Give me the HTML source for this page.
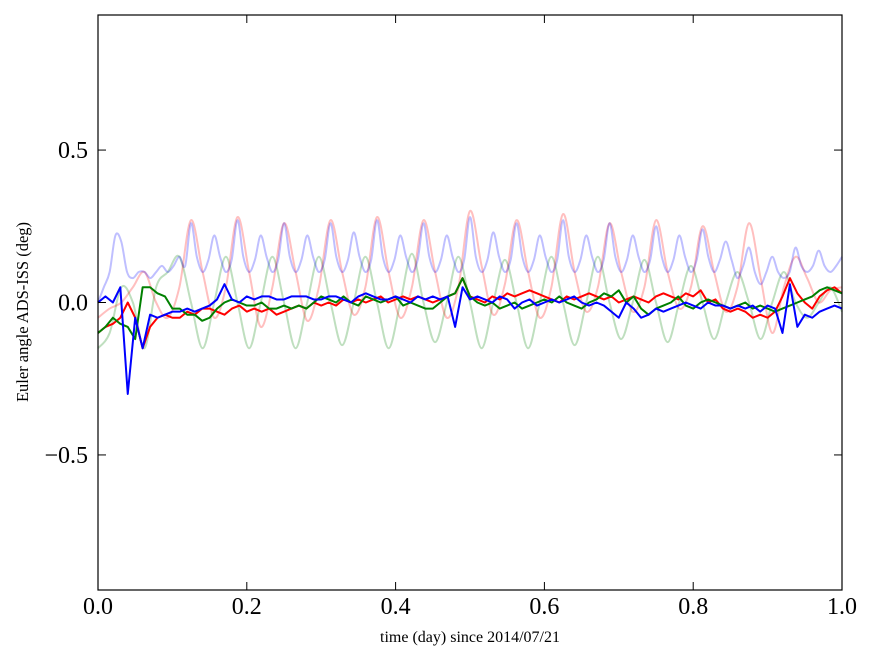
<!DOCTYPE html>
<html><head><meta charset="utf-8"><style>
html,body{margin:0;padding:0;background:#fff;}
svg{display:block;font-family:"Liberation Serif",serif;}
</style></head><body>
<svg id="chart" width="875" height="662" viewBox="0 0 875 662" xmlns="http://www.w3.org/2000/svg">
<rect x="0" y="0" width="875" height="662" fill="#fff"/>
<g id="faint"></g>
<g id="main"></g>
<rect x="98" y="15" width="744" height="575" fill="none" stroke="#000" stroke-width="1.2"/>
<g id="ticks"></g>
<text x="470" y="642" font-size="16" text-anchor="middle">time (day) since 2014/07/21</text>
<text transform="translate(28,312) rotate(-90)" font-size="16.5" text-anchor="middle">Euler angle ADS-ISS (deg)</text>
</svg>
<script>
const xTicks=[0,0.2,0.4,0.6,0.8,1.0];
const xTickLabels=["0.0","0.2","0.4","0.6","0.8","1.0"];
const yTicks=[-0.5,0,0.5];
const yTickLabels=["\u22120.5","0.0","0.5"];
const faintPink=[-0.05,-0.02,0.0,0.05,0.1,0.0,-0.05,0.05,0.27,0.1,-0.05,0.05,0.28,0.1,-0.08,0.05,0.26,0.1,-0.06,0.05,0.27,0.1,-0.04,0.05,0.28,0.1,-0.05,0.05,0.27,0.1,-0.05,0.05,0.3,0.12,-0.04,0.06,0.27,0.1,-0.05,0.05,0.29,0.1,-0.03,0.05,0.26,0.1,-0.03,0.05,0.27,0.1,-0.02,0.05,0.25,0.1,-0.03,0.05,0.26,0.08,-0.1,0.05,0.15,0.08,0.0,0.04,0.05];
const faintGreen=[-0.15,-0.1,0.05,0.0,-0.15,0.05,0.1,0.15,0.0,-0.15,0.0,0.15,0.0,-0.15,0.0,0.15,0.0,-0.15,0.0,0.15,0.0,-0.14,0.0,0.15,0.0,-0.15,0.0,0.16,0.0,-0.13,0.0,0.15,0.0,-0.15,0.0,0.14,0.0,-0.15,0.0,0.15,0.0,-0.14,0.0,0.15,0.0,-0.12,0.0,0.14,0.0,-0.13,0.0,0.12,0.0,-0.12,0.0,0.1,0.0,-0.12,0.0,0.1,0.0,-0.05,0.0,0.05,-0.03];
const faintBlue=[0,0.05,0.1,0.22,0.2,0.1,0.08,0.1,0.1,0.08,0.1,0.12,0.1,0.12,0.15,0.12,
0.26,0.15,0.1,0.14,0.22,0.15,0.1,0.14,0.27,0.15,0.1,0.14,0.22,0.15,0.1,0.14,0.26,0.15,0.1,0.14,0.22,0.15,0.1,0.14,0.26,0.15,0.1,0.14,0.23,0.15,0.1,0.14,
0.27,0.15,0.1,0.14,0.22,0.15,0.1,0.14,0.26,0.15,0.1,0.14,0.22,0.15,0.1,0.14,0.28,0.15,0.1,0.14,0.23,0.15,0.1,0.14,0.26,0.15,0.1,0.14,0.22,0.15,0.1,0.14,
0.27,0.15,0.1,0.14,0.22,0.15,0.1,0.14,0.26,0.15,0.1,0.14,0.22,0.15,0.1,0.14,0.25,0.15,0.1,0.14,0.22,0.15,0.1,0.14,0.24,0.15,0.1,0.14,0.2,0.14,0.08,0.12,
0.18,0.1,0.06,0.1,0.15,0.1,0.08,0.1,0.18,0.12,0.1,0.12,0.17,0.12,0.1,0.12,0.15];
const seriesRed=[-0.1,-0.08,-0.07,-0.05,0.0,-0.05,-0.15,-0.08,-0.05,-0.04,-0.05,-0.05,-0.03,-0.04,-0.02,-0.02,-0.03,-0.04,-0.02,-0.01,-0.03,-0.02,-0.03,-0.02,-0.04,-0.03,-0.02,-0.01,-0.02,0.0,-0.01,0.0,-0.01,0.01,0.0,0.01,0.0,0.01,0.02,0.0,0.01,0.02,0.01,0.02,0.01,0.0,0.01,0.02,0.03,0.08,0.02,0.01,0.0,0.02,0.01,0.03,0.02,0.03,0.04,0.03,0.02,0.01,0.0,0.02,0.01,0.02,0.03,0.02,0.01,0.02,0.0,0.01,0.02,0.01,0.0,0.02,0.03,0.02,0.01,0.03,0.02,0.04,0.0,0.01,-0.02,-0.03,-0.02,-0.03,-0.05,-0.04,-0.05,-0.03,0.02,0.08,0.03,0.0,-0.02,0.02,0.04,0.05,0.03];
const seriesGreen=[-0.1,-0.08,-0.05,-0.07,-0.08,-0.12,0.05,0.05,0.03,0.02,-0.02,-0.02,-0.04,-0.04,-0.06,-0.05,-0.02,0.0,0.01,0.0,-0.01,-0.01,0.0,-0.02,-0.02,-0.01,-0.02,-0.01,-0.02,0.0,0.02,0.01,0.0,0.02,0.0,-0.01,0.02,0.01,0.0,0.01,0.02,-0.01,0.0,-0.01,-0.02,-0.02,0.0,0.02,0.03,0.08,0.02,0.0,-0.01,0.0,-0.02,-0.01,0.0,-0.02,-0.01,0.0,0.01,0.0,0.02,0.0,-0.01,-0.02,0.0,0.01,0.03,0.02,0.04,0.0,0.02,-0.02,-0.04,-0.02,-0.01,0.0,0.02,-0.01,-0.02,0.0,0.01,0.0,-0.01,-0.02,-0.01,0.0,-0.02,-0.01,-0.02,-0.03,-0.02,-0.01,0.0,0.01,0.02,0.04,0.05,0.04,0.03];
const seriesBlue=[0.0,0.02,0.0,0.05,-0.3,-0.05,-0.15,-0.04,-0.05,-0.04,-0.03,-0.03,-0.02,-0.03,-0.02,-0.01,0.01,0.06,0.01,0.0,0.02,0.01,0.02,0.02,0.01,0.01,0.02,0.02,0.02,0.01,0.01,0.02,0.02,0.01,0.0,0.02,0.03,0.02,0.01,0.01,0.02,0.01,0.0,0.02,0.01,0.02,0.01,0.02,-0.08,0.05,0.01,0.02,0.01,0.0,0.02,0.01,-0.02,0.0,0.01,-0.01,0.0,0.01,0.0,0.01,0.02,0.0,-0.01,0.0,-0.01,-0.03,-0.05,0.0,-0.02,-0.05,-0.04,-0.02,-0.03,-0.02,-0.01,0.0,-0.01,-0.02,0.0,-0.01,-0.01,-0.02,-0.01,-0.02,-0.01,-0.03,-0.01,-0.02,-0.1,0.06,-0.08,-0.04,-0.05,-0.03,-0.02,-0.01,-0.02];

const NS='http://www.w3.org/2000/svg';
const X0=98,X1=842,Y0=15,Y1=590,YMIN=-0.943,YMAX=0.943;
function xs(v){return X0+(X1-X0)*v;}
function ys(v){return Y1-(Y1-Y0)*(v-YMIN)/(YMAX-YMIN);}
function line(parent,arr,color,width,opacity,name,smooth){
  const n=arr.length;
  const P=arr.map((v,i)=>[xs(i/(n-1)),ys(v)]);
  let d='M'+P[0][0].toFixed(2)+','+P[0][1].toFixed(2);
  for(let i=1;i<n;i++){
    if(smooth){
      const p0=P[Math.max(0,i-2)],p1=P[i-1],p2=P[i],p3=P[Math.min(n-1,i+1)];
      const c1=[p1[0]+(p2[0]-p0[0])/6,p1[1]+(p2[1]-p0[1])/6];
      const c2=[p2[0]-(p3[0]-p1[0])/6,p2[1]-(p3[1]-p1[1])/6];
      d+='C'+c1[0].toFixed(2)+','+c1[1].toFixed(2)+' '+c2[0].toFixed(2)+','+c2[1].toFixed(2)+' '+p2[0].toFixed(2)+','+p2[1].toFixed(2);
    } else d+='L'+P[i][0].toFixed(2)+','+P[i][1].toFixed(2);
  }
  const p=document.createElementNS(NS,'path');
  p.setAttribute('d',d);p.setAttribute('fill','none');p.setAttribute('stroke',color);
  p.setAttribute('stroke-width',width);p.setAttribute('stroke-opacity',opacity);
  p.setAttribute('stroke-linejoin','round');
  
  
  parent.appendChild(p);
}
const fg=document.getElementById('faint'),mg=document.getElementById('main');
line(fg,faintGreen,'#008000',2,0.25,'faint-green-series',true);
line(fg,faintPink,'#ff0000',2,0.25,'faint-red-series',true);
line(fg,faintBlue,'#0000ff',2,0.25,'faint-blue-series',true);
line(mg,seriesRed,'#ff0000',2,1,'red-series',false);
line(mg,seriesGreen,'#008000',2,1,'green-series',false);
line(mg,seriesBlue,'#0000ff',2,1,'blue-series',false);
const tg=document.getElementById('ticks');
function mk(tag,attrs,parent){const e=document.createElementNS(NS,tag);for(const k in attrs)e.setAttribute(k,attrs[k]);parent.appendChild(e);return e;}
xTicks.forEach((v,i)=>{
  const x=xs(v);
  const t1=mk('line',{x1:x,x2:x,y1:Y1,y2:Y1-8,stroke:'#000'},tg);
  
  
  const t2=mk('line',{x1:x,x2:x,y1:Y0,y2:Y0+8,stroke:'#000'},tg);
  
  
  const tx=mk('text',{x:x,y:614,'font-size':24,'text-anchor':'middle'},tg);
  tx.textContent=xTickLabels[i];
  
  
});
yTicks.forEach((v,i)=>{
  const y=ys(v);
  const t1=mk('line',{x1:X0,x2:X0+8,y1:y,y2:y,stroke:'#000'},tg);
  
  
  const t2=mk('line',{x1:X1,x2:X1-8,y1:y,y2:y,stroke:'#000'},tg);
  
  
  const tx=mk('text',{x:X0-10,y:y+8,'font-size':24,'text-anchor':'end'},tg);
  tx.textContent=yTickLabels[i];
  
  
});
</script>
</body></html>
